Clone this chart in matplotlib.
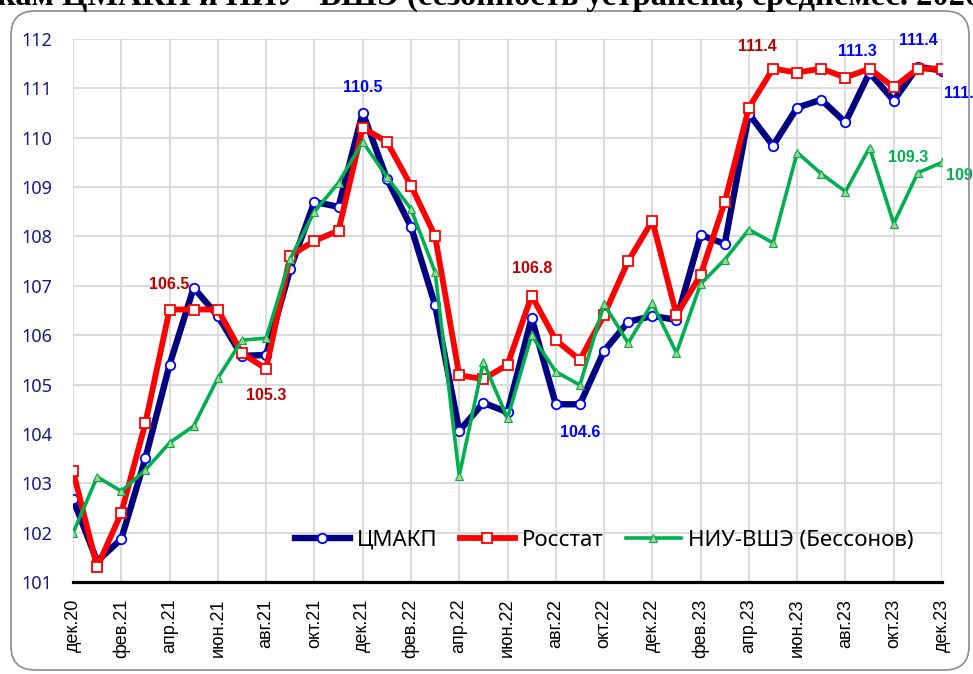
import numpy as np
import matplotlib
matplotlib.use("Agg")
import matplotlib.pyplot as plt
from matplotlib.patches import FancyBboxPatch
from matplotlib.transforms import IdentityTransform

months = ["дек.20", "янв.21", "фев.21", "мар.21", "апр.21", "май.21", "июн.21", "июл.21",
          "авг.21", "сен.21", "окт.21", "ноя.21", "дек.21", "янв.22", "фев.22", "мар.22",
          "апр.22", "май.22", "июн.22", "июл.22", "авг.22", "сен.22", "окт.22", "ноя.22",
          "дек.22", "янв.23", "фев.23", "мар.23", "апр.23", "май.23", "июн.23", "июл.23",
          "авг.23", "сен.23", "окт.23", "ноя.23", "дек.23"]

cmakp = [102.68, 101.42, 101.87, 103.51, 105.40, 106.96, 106.39, 105.58, 105.60, 107.34,
         108.70, 108.60, 110.51, 109.17, 108.20, 106.61, 104.06, 104.63, 104.44, 106.35,
         104.60, 104.60, 105.68, 106.27, 106.39, 106.31, 108.03, 107.85, 110.48, 109.84,
         110.61, 110.77, 110.31, 111.32, 110.75, 111.44, 111.36]
rosstat = [103.25, 101.30, 102.40, 104.22, 106.52, 106.52, 106.52, 105.63, 105.32, 107.61,
           107.91, 108.12, 110.20, 109.92, 109.03, 108.01, 105.19, 105.11, 105.40, 106.80,
           105.90, 105.50, 106.41, 107.50, 108.32, 106.41, 107.22, 108.70, 110.61, 111.40,
           111.32, 111.40, 111.22, 111.40, 111.02, 111.40, 111.40]
hse = [101.99, 103.13, 102.84, 103.27, 103.82, 104.16, 105.13, 105.90, 105.94, 107.55,
       108.50, 109.09, 109.92, 109.21, 108.56, 107.28, 103.15, 105.46, 104.32, 106.00,
       105.26, 104.99, 106.63, 105.84, 106.65, 105.64, 107.04, 107.53, 108.14, 107.87,
       109.70, 109.27, 108.91, 109.80, 108.26, 109.29, 109.50]

# (series, month index, text)
labels = [("cmakp", 12, "110.5"), ("rosstat", 4, "106.5"), ("rosstat", 8, "105.3"),
          ("rosstat", 19, "106.8"), ("cmakp", 21, "104.6"), ("rosstat", 29, "111.4"),
          ("cmakp", 33, "111.3"), ("cmakp", 35, "111.4"), ("cmakp", 36, "111.3"),
          ("hse", 35, "109.3"), ("hse", 36, "109.5")]

NAVY = "#000080"
BLUE = "#0000ff"
RED = "#ff0000"
DRED = "#c00000"
GREEN = "#00b050"

fig = plt.figure(figsize=(9.73, 6.74), dpi=100)
ax = fig.add_axes([73/973, 1-582/674, (942-73)/973, (582-39)/674])

x = np.arange(len(months))
ax.plot(x, cmakp, color=NAVY, lw=4.6, marker="o", ms=6.8, mfc="white", mec=BLUE,
        mew=1.3, label="ЦМАКП", zorder=3)
ax.plot(x, rosstat, color=RED, lw=4.2, marker="s", ms=7.6, mfc="white", mec=RED,
        mew=1.3, label="Росстат", zorder=4)
ax.plot(x, hse, color=GREEN, lw=2.6, marker="^", ms=6, mfc="#a9d18e", mec=GREEN,
        mew=0.8, label="НИУ-ВШЭ (Бессонов)", zorder=5)

ax.set_xlim(0, 36)
ax.set_ylim(101, 112)
ax.set_yticks(range(101, 113))
ax.set_xticks(x[::2])
ax.set_xticklabels(months[::2], rotation=90, fontsize=13, family="Liberation Sans")
ax.tick_params(axis="x", length=0, pad=12)
ax.tick_params(axis="y", length=0, pad=15, labelcolor="#1a1a80", labelsize=13)
for t in ax.get_yticklabels():
    t.set_family("Noto Sans")
ax.grid(True, color="#d9d9d9", lw=1.3)
ax.set_axisbelow(True)
for s in ["left", "right", "top"]:
    ax.spines[s].set_visible(False)
ax.spines["bottom"].set_linewidth(2.3)
ax.spines["bottom"].set_color("black")
ax.spines["bottom"].set_zorder(6)

series = {"cmakp": cmakp, "rosstat": rosstat, "hse": hse}
colors = {"cmakp": BLUE, "rosstat": DRED, "hse": GREEN}
# pixel offsets of each label from its point
offsets = {(12, "cmakp"): (0, 25, "center"), (4, "rosstat"): (0, 25, "center"),
           (8, "rosstat"): (0, -27, "center"), (19, "rosstat"): (0, 27, "center"),
           (21, "cmakp"): (0, -28, "center"), (29, "rosstat"): (-16, 22, "center"),
           (33, "cmakp"): (-12, 21, "center"), (35, "cmakp"): (1, 26, "center"),
           (36, "cmakp"): (2, -23, "left"), (35, "hse"): (-10, 15, "center"),
           (36, "hse"): (4, -13, "left")}
for name, i, txt in labels:
    dx, dy, ha = offsets[(i, name)]
    ax.annotate(txt, (i, series[name][i]), xytext=(dx, dy), textcoords="offset pixels",
                ha=ha, va="center", fontsize=11.5, fontweight="bold", color=colors[name],
                family="Liberation Sans", annotation_clip=False, zorder=7)

leg = ax.legend(loc="center", bbox_to_anchor=(0.611, 0.077), ncol=3, frameon=False,
                prop={"family": "Noto Sans", "size": 16}, handlelength=2.5,
                handletextpad=0.3, columnspacing=1.0)

frame = FancyBboxPatch((11, 4), 958, 659, boxstyle="round,pad=0,rounding_size=24",
                       transform=IdentityTransform(), fc="none", ec="#8c8c8c", lw=1.2)
fig.add_artist(frame)

fig.text(-3/973, 1-5/674, "кам ЦМАКП и НИУ- ВШЭ (сезонность устранена, среднемес. 2020=100)",
         ha="left", va="baseline", fontsize=23.5, fontweight="bold", family="Liberation Serif")

fig.savefig("out.png", dpi=100)
